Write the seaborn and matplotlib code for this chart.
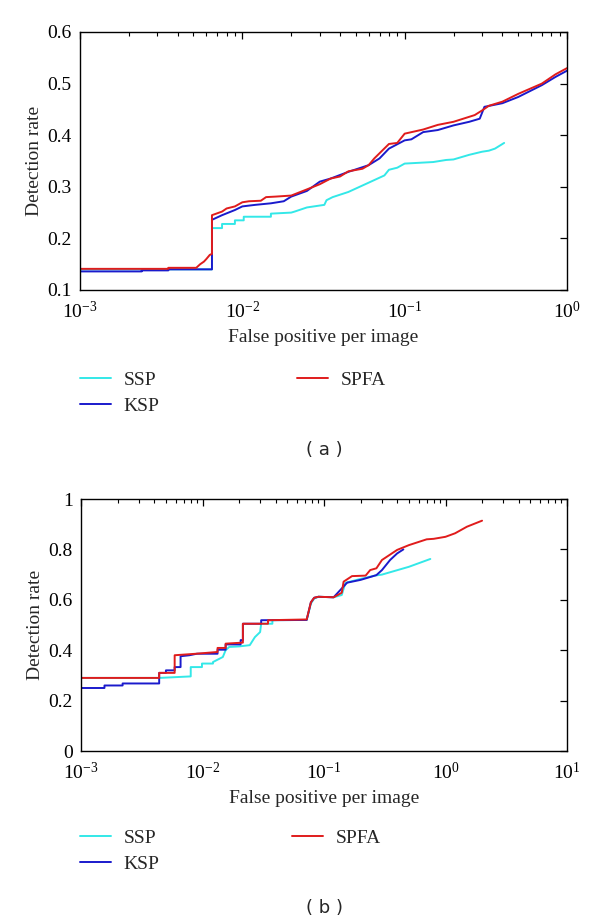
import numpy as np
import pandas as pd
import matplotlib
matplotlib.use("Agg")
import matplotlib.pyplot as plt
from matplotlib.ticker import FixedLocator, FixedFormatter, LogLocator, NullFormatter
import seaborn as sns

# ---------------- data: panel (a) ----------------
ssp_a_x = [0.001, 0.0065, 0.0065, 0.0075, 0.0075, 0.009, 0.009, 0.0102, 0.0102, 0.015,
           0.015, 0.02, 0.021, 0.025, 0.032, 0.033, 0.036, 0.045, 0.06, 0.075, 0.08, 0.09,
           0.1, 0.15, 0.18, 0.2, 0.25, 0.3, 0.33, 0.36, 0.41]
ssp_a_y = [0.14, 0.14, 0.22, 0.22, 0.228, 0.228, 0.235, 0.235, 0.242, 0.242,
           0.248, 0.25, 0.252, 0.26, 0.265, 0.274, 0.28, 0.29, 0.308, 0.322, 0.333, 0.337,
           0.345, 0.348, 0.352, 0.353, 0.362, 0.368, 0.37, 0.374, 0.385]

ksp_a_x = [0.001, 0.0024, 0.0024, 0.0035, 0.0035, 0.0065, 0.0065, 0.0075, 0.009, 0.01,
           0.012, 0.015, 0.018, 0.02, 0.025, 0.03, 0.035, 0.045, 0.055, 0.06, 0.07, 0.08,
           0.1, 0.11, 0.13, 0.16, 0.2, 0.25, 0.29, 0.31, 0.4, 0.5, 0.7, 0.85, 1.0]
ksp_a_y = [0.136, 0.136, 0.138, 0.138, 0.14, 0.14, 0.236, 0.245, 0.255, 0.262,
           0.265, 0.268, 0.272, 0.281, 0.292, 0.31, 0.316, 0.329, 0.338, 0.342, 0.355, 0.374,
           0.39, 0.392, 0.406, 0.41, 0.419, 0.426, 0.432, 0.455, 0.462, 0.474, 0.497, 0.513, 0.525]

spfa_a_x = [0.001, 0.0035, 0.0035, 0.0052, 0.0055, 0.0058, 0.006, 0.0063, 0.0065, 0.0065,
            0.0075, 0.008, 0.009, 0.01, 0.011, 0.013, 0.014, 0.016, 0.02, 0.025, 0.03,
            0.035, 0.04, 0.045, 0.055, 0.06, 0.065, 0.08, 0.09, 0.1, 0.13, 0.16, 0.2,
            0.27, 0.3, 0.33, 0.4, 0.5, 0.7, 0.85, 1.0]
spfa_a_y = [0.141, 0.141, 0.143, 0.143, 0.15, 0.155, 0.16, 0.168, 0.17, 0.245,
            0.252, 0.258, 0.262, 0.27, 0.272, 0.273, 0.28, 0.281, 0.283, 0.295, 0.305,
            0.316, 0.32, 0.33, 0.335, 0.342, 0.355, 0.383, 0.385, 0.403, 0.411, 0.42, 0.426,
            0.439, 0.448, 0.457, 0.465, 0.48, 0.5, 0.518, 0.53]

# ---------------- data: panel (b) ----------------
ssp_b_x = [0.001, 0.0044, 0.008, 0.008, 0.0099, 0.0099, 0.0122, 0.0122, 0.0147, 0.0155,
           0.0166, 0.02, 0.0245, 0.027, 0.0298, 0.0304, 0.035, 0.0376, 0.0376, 0.072,
           0.078, 0.083, 0.09, 0.12, 0.14, 0.15, 0.2, 0.27, 0.3, 0.5, 0.75]
ssp_b_y = [0.29, 0.29, 0.296, 0.333, 0.333, 0.347, 0.347, 0.353, 0.373, 0.40,
           0.413, 0.415, 0.42, 0.452, 0.472, 0.505, 0.505, 0.505, 0.519, 0.52,
           0.585, 0.605, 0.612, 0.61, 0.619, 0.667, 0.683, 0.697, 0.70, 0.731, 0.762]

ksp_b_x = [0.001, 0.00156, 0.00156, 0.0022, 0.0022, 0.0044, 0.0044, 0.005, 0.005, 0.0059,
           0.0059, 0.0066, 0.0066, 0.0078, 0.009, 0.0133, 0.0133, 0.0155, 0.0155, 0.0206,
           0.0206, 0.0215, 0.0215, 0.0304, 0.0304, 0.072, 0.078, 0.083, 0.09, 0.12, 0.14,
           0.155, 0.2, 0.27, 0.3, 0.35, 0.4, 0.45]
ksp_b_y = [0.25, 0.25, 0.26, 0.26, 0.268, 0.268, 0.31, 0.31, 0.32, 0.32,
           0.333, 0.333, 0.376, 0.38, 0.386, 0.386, 0.402, 0.402, 0.423, 0.423,
           0.44, 0.44, 0.505, 0.505, 0.519, 0.52, 0.59, 0.608, 0.612, 0.61, 0.645,
           0.668, 0.679, 0.698, 0.718, 0.758, 0.784, 0.80]

spfa_b_x = [0.001, 0.0044, 0.0044, 0.0059, 0.0059, 0.0089, 0.0133, 0.0133, 0.0155, 0.0155,
            0.0213, 0.0215, 0.0215, 0.0346, 0.0346, 0.072, 0.078, 0.083, 0.09, 0.12,
            0.14, 0.145, 0.17, 0.22, 0.24, 0.27, 0.3, 0.4, 0.5, 0.7, 0.8, 1.0, 1.2, 1.5, 2.0]
spfa_b_y = [0.29, 0.29, 0.31, 0.31, 0.38, 0.386, 0.393, 0.409, 0.409, 0.426,
            0.43, 0.43, 0.505, 0.505, 0.519, 0.522, 0.59, 0.608, 0.612, 0.61,
            0.628, 0.672, 0.694, 0.696, 0.718, 0.725, 0.758, 0.798, 0.817, 0.84, 0.842,
            0.85, 0.864, 0.89, 0.914]

methods = ["SSP", "KSP", "SPFA"]
colors = {"SSP": "#33e8e8", "KSP": "#1a1acc", "SPFA": "#e01c1c"}

a_x_ticks = [1e-3, 1e-2, 1e-1, 1e0]
a_x_labels = [r"$10^{-3}$", r"$10^{-2}$", r"$10^{-1}$", r"$10^{0}$"]
a_y_ticks = [0.1, 0.2, 0.3, 0.4, 0.5, 0.6]
a_y_labels = ["0.1", "0.2", "0.3", "0.4", "0.5", "0.6"]
b_x_ticks = [1e-3, 1e-2, 1e-1, 1e0, 1e1]
b_x_labels = [r"$10^{-3}$", r"$10^{-2}$", r"$10^{-1}$", r"$10^{0}$", r"$10^{1}$"]
b_y_ticks = [0, 0.2, 0.4, 0.6, 0.8, 1.0]
b_y_labels = ["0", "0.2", "0.4", "0.6", "0.8", "1"]

x_label = "False positive per image"
y_label = "Detection rate"
panel_labels = ["( a )", "( b )"]

# ---------------- style ----------------
sns.set_style("white")
plt.rcParams["font.family"] = ["Liberation Serif", "DejaVu Serif"]
plt.rcParams["mathtext.fontset"] = "stix"
plt.rcParams["mathtext.default"] = "regular"

W, H = 600, 924
fig = plt.figure(figsize=(6.0, 9.24), dpi=100)

def fig_rect(left, top, right, bottom):
    return [left / W, 1 - bottom / H, (right - left) / W, (bottom - top) / H]

def build_df(xs, ys):
    frames = []
    for m, x, y in zip(methods, xs, ys):
        frames.append(pd.DataFrame({"x": x, "y": y, "method": m}))
    return frames

LEG_KW = dict(loc="upper left", frameon=False, fontsize=14, handlelength=1.6,
              handletextpad=0.65, labelspacing=0.45, borderpad=0, borderaxespad=0)

def draw_panel(rect, xs, ys, xlim, ylim, xt, xl, yt, yl, legend_top, legend_col2):
    ax = fig.add_axes(rect)
    for df in build_df(xs, ys):
        m = df["method"].iloc[0]
        sns.lineplot(data=df, x="x", y="y", ax=ax, color=colors[m], estimator=None,
                     sort=False, linewidth=1.4, label=m)
    ax.set_xscale("log")
    ax.set_xlim(*xlim)
    ax.set_ylim(*ylim)
    ax.xaxis.set_major_locator(FixedLocator(xt))
    ax.xaxis.set_major_formatter(FixedFormatter(xl))
    ax.xaxis.set_minor_locator(LogLocator(base=10, subs=np.arange(2, 10)))
    ax.xaxis.set_minor_formatter(NullFormatter())
    ax.yaxis.set_major_locator(FixedLocator(yt))
    ax.yaxis.set_major_formatter(FixedFormatter(yl))
    ax.tick_params(which="both", direction="in", top=True, right=True, colors="black",
                   labelsize=14)
    ax.tick_params(axis="x", which="major", length=5, width=0.9, pad=8)
    ax.tick_params(axis="y", which="major", length=5, width=0.9, pad=6)
    ax.tick_params(which="minor", length=3, width=0.8)
    for s in ax.spines.values():
        s.set_color("black")
        s.set_linewidth(1.0)
    ax.set_xlabel(x_label, fontsize=14, labelpad=5)
    ax.set_ylabel(y_label, fontsize=14, labelpad=3)
    handles, labels = ax.get_legend_handles_labels()
    if ax.get_legend():
        ax.get_legend().remove()
    h = {l: hd for hd, l in zip(handles, labels)}
    fig.legend([h["SSP"], h["KSP"]], ["SSP", "KSP"],
               bbox_to_anchor=(80 / W, 1 - legend_top / H), **LEG_KW)
    fig.legend([h["SPFA"]], ["SPFA"],
               bbox_to_anchor=(legend_col2 / W, 1 - legend_top / H), **LEG_KW)
    return ax

draw_panel(fig_rect(80, 32, 567, 290), [ssp_a_x, ksp_a_x, spfa_a_x],
           [ssp_a_y, ksp_a_y, spfa_a_y], (1e-3, 1.0), (0.1, 0.6),
           a_x_ticks, a_x_labels, a_y_ticks, a_y_labels, 371, 297)
draw_panel(fig_rect(81, 499, 567, 751), [ssp_b_x, ksp_b_x, spfa_b_x],
           [ssp_b_y, ksp_b_y, spfa_b_y], (1e-3, 10.0), (0.0, 1.0),
           b_x_ticks, b_x_labels, b_y_ticks, b_y_labels, 829, 292)

fig.text(324 / W, 1 - 450 / H, panel_labels[0], ha="center", va="center",
         fontsize=13, family=["DejaVu Sans"])
fig.text(324 / W, 1 - 908 / H, panel_labels[1], ha="center", va="center",
         fontsize=13, family=["DejaVu Sans"])

fig.savefig("out.png", dpi=100, facecolor="white")
